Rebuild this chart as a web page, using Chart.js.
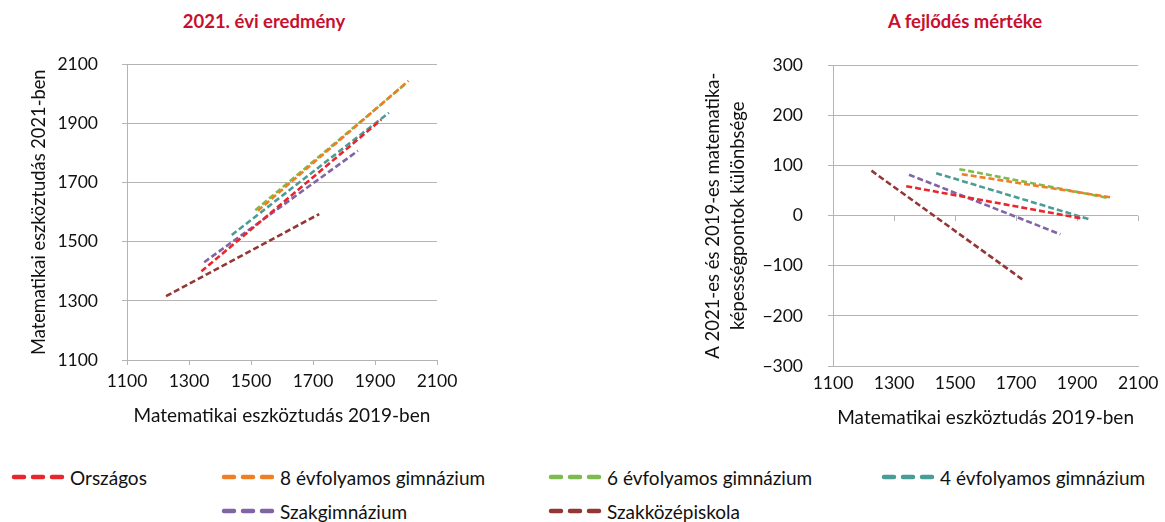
<!DOCTYPE html>
<html lang="hu">
<head>
<meta charset="utf-8">
<title>Matematikai eszköztudás 2019–2021</title>
<script src="https://cdn.jsdelivr.net/npm/chart.js@4.4.0/dist/chart.umd.min.js"></script>
<style>
    body { margin: 0; background: #fff; font-family: Lato, "Open Sans", sans-serif; }
    #page { position: relative; width: 1165px; height: 522px; overflow: hidden; }
    .chart-title { position: absolute; top: 10px; width: 300px; text-align: center; font-weight: bold; font-size: 18.5px; color: #C8102E; }
    .chart-box { position: absolute; top: 30px; height: 410px; }
    .legend-item { position: absolute; height: 24px; display: flex; align-items: center; font-size: 19px; color: #111; white-space: nowrap; }
    .legend-item svg { margin-right: 3px; }
</style>
</head>
<body>
<div id="page">
    <div class="chart-title" style="left:114px">2021. évi eredmény</div>
    <div class="chart-title" style="left:815px">A fejlődés mértéke</div>
    <div class="chart-box" style="left:0; width:470px"><canvas id="chart-result"></canvas></div>
    <div class="chart-box" style="left:690px; width:475px"><canvas id="chart-change"></canvas></div>
    <div id="legend"></div>
</div>
<script>
// iskolatípusok és színeik
const seriesNames = ['Országos', '8 évfolyamos gimnázium', '6 évfolyamos gimnázium', '4 évfolyamos gimnázium', 'Szakgimnázium', 'Szakközépiskola'];
const seriesColors = ['#E8262B', '#F07F24', '#7DBB4F', '#4A9D96', '#8064A6', '#943634'];

// 2019-es pontszám (vonal eleje, vége)
const scores2019 = [
    [1340, 1920],
    [1522, 2008],
    [1514, 1998],
    [1438, 1945],
    [1349, 1845],
    [1226, 1720]
];
// 2021-es pontszám ugyanezekben a pontokban
const scores2021 = [
    [1400, 1913],
    [1605, 2045],
    [1607, 2034],
    [1523, 1937],
    [1431, 1808],
    [1316, 1594]
];
// 2021 és 2019 különbsége
const scoreDiffs = [
    [59, -6],
    [83, 37],
    [93, 36],
    [85, -8],
    [82, -37],
    [90, -127]
];

const xTicks = [1100, 2100, 200];
const resultTicks = [1100, 2100, 200];
const changeTicks = [-300, 300, 100];

const gridColor = '#B4B4B4';
const fontFamily = 'Lato, "Open Sans", sans-serif';
const textColor = '#111';

function buildDatasets(yValues) {
    return seriesNames.map((name, i) => ({
        label: name,
        data: scores2019[i].map((x, j) => ({ x: x, y: yValues[i][j] })),
        borderColor: seriesColors[i],
        backgroundColor: seriesColors[i],
        borderWidth: 2.6,
        borderDash: [6, 3],
        pointRadius: 0,
        fill: false
    }));
}

// tengelyen lévő kis jelölők a 0 vonalon (jobb oldali ábra)
const zeroTicks = {
    id: 'zeroTicks',
    beforeDatasetsDraw(chart) {
        const { ctx, scales: { x, y } } = chart;
        const y0 = Math.round(y.getPixelForValue(0));
        ctx.save();
        ctx.strokeStyle = gridColor;
        ctx.lineWidth = 1;
        x.ticks.forEach(t => {
            const px = Math.round(x.getPixelForValue(t.value)) + 0.5;
            ctx.beginPath();
            ctx.moveTo(px, y0);
            ctx.lineTo(px, y0 + 5);
            ctx.stroke();
        });
        ctx.restore();
    }
};

function makeOptions(cfg) {
    return {
        responsive: true,
        maintainAspectRatio: false,
        animation: false,
        layout: { padding: { top: 3, right: cfg.padRight, left: 0, bottom: 0 } },
        plugins: { legend: { display: false }, tooltip: { enabled: false } },
        scales: {
            x: {
                type: 'linear',
                min: xTicks[0], max: xTicks[1],
                afterFit: s => { s.height = cfg.xHeight; },
                ticks: {
                    stepSize: xTicks[2],
                    padding: cfg.xTickPad,
                    color: textColor,
                    font: { family: fontFamily, size: 17.5 },
                    maxRotation: 0,
                    callback: v => String(v)
                },
                grid: cfg.xGrid,
                border: { color: gridColor },
                title: {
                    display: true,
                    text: 'Matematikai eszköztudás 2019-ben',
                    color: textColor,
                    font: { family: fontFamily, size: 19 },
                    padding: { top: 0, bottom: cfg.xTitlePad }
                }
            },
            y: {
                min: cfg.yTicks[0], max: cfg.yTicks[1],
                afterFit: s => { s.width = cfg.yWidth; },
                ticks: {
                    stepSize: cfg.yTicks[2],
                    padding: cfg.yTickPad,
                    color: textColor,
                    font: { family: fontFamily, size: 17.5 },
                    callback: v => String(v).replace('-', '\u2212')
                },
                grid: { color: gridColor, tickLength: 5 },
                border: { color: gridColor },
                title: {
                    display: true,
                    text: cfg.yTitle,
                    color: textColor,
                    font: { family: fontFamily, size: cfg.yTitleSize, lineHeight: cfg.yTitleLh },
                    padding: { top: cfg.yTitlePad, bottom: 0 }
                }
            }
        }
    };
}

new Chart(document.getElementById('chart-result'), {
    type: 'line',
    data: { datasets: buildDatasets(scores2021) },
    options: makeOptions({
        padRight: 33, xHeight: 80, yWidth: 127,
        xTickPad: 5.5, xTitlePad: 12.6, yTickPad: 24, yTitlePad: 28.6, yTitleSize: 18.3, yTitleLh: 1.2,
        xGrid: { color: gridColor, drawOnChartArea: false, drawTicks: true, tickLength: 5 },
        yTicks: resultTicks,
        yTitle: 'Matematikai eszköztudás 2021-ben'
    })
});

new Chart(document.getElementById('chart-change'), {
    type: 'line',
    data: { datasets: buildDatasets(scoreDiffs) },
    options: makeOptions({
        padRight: 20, xHeight: 74, yWidth: 143,
        xTickPad: 6.5, xTitlePad: 10.6, yTickPad: 25, yTitlePad: 10.5, yTitleSize: 18.5, yTitleLh: 25 / 18.5,
        xGrid: { display: false, drawTicks: false },
        yTicks: changeTicks,
        yTitle: ['A 2021-es és 2019-es matematika-', 'képességpontok különbsége']
    }),
    plugins: [zeroTicks]
});

// jelmagyarázat két sorban
const legendSlots = [[11, 465], [221, 465], [548, 465], [881, 465], [221, 499], [548, 499]];
document.getElementById('legend').innerHTML = seriesNames.map((name, i) => `
    <div class="legend-item" style="left:${legendSlots[i][0]}px; top:${legendSlots[i][1]}px">
        <svg width="56" height="10"><line x1="3" y1="5" x2="54" y2="5" stroke="${seriesColors[i]}" stroke-width="4.5" stroke-linecap="round" stroke-dasharray="10 9"/></svg>${name}
    </div>
`).join('');
</script>
</body>
</html>
